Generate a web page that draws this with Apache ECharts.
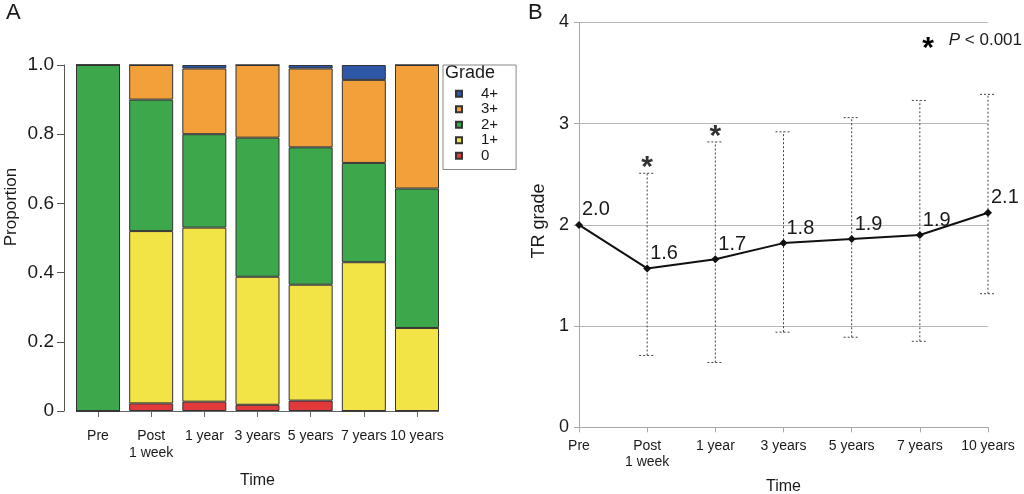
<!DOCTYPE html>
<html><head><meta charset="utf-8">
<script src="https://cdn.jsdelivr.net/npm/echarts@6/dist/echarts.min.js"></script>
<style>html,body{margin:0;padding:0;background:#fff}#c{width:1024px;height:494px}</style>
</head><body><div id="c"></div>
<script>
// ---- data ----
const categories = ['Pre', 'Post\n1 week', '1 year', '3 years', '5 years', '7 years', '10 years'];
const gradeNames = ['0', '1+', '2+', '3+', '4+'];
const grade0 = [0, 0.022, 0.027, 0.018, 0.030, 0, 0];
const grade1 = [0, 0.498, 0.503, 0.370, 0.335, 0.430, 0.240];
const grade2 = [1.0, 0.380, 0.270, 0.402, 0.397, 0.287, 0.403];
const grade3 = [0, 0.100, 0.190, 0.210, 0.228, 0.240, 0.357];
const grade4 = [0, 0, 0.010, 0, 0.010, 0.043, 0];
const proportionTicks = ['0', '0.2', '0.4', '0.6', '0.8', '1.0'];
const trTicks = ['0', '1', '2', '3', '4'];
const trMean = [2.0, 1.57, 1.66, 1.82, 1.86, 1.90, 2.12];
const trLabels = ['2.0', '1.6', '1.7', '1.8', '1.9', '1.9', '2.1'];
const trUpper = [null, 2.51, 2.82, 2.92, 3.06, 3.23, 3.29];
const trLower = [null, 0.71, 0.64, 0.94, 0.89, 0.85, 1.32];
const significant = [false, true, true, false, false, false, false];

const FONT = 'Liberation Sans, Arial, Helvetica, sans-serif';
const TXT = '#1a1a1a';
const gradeColors = ['#E2393A', '#F2E347', '#3DA84B', '#F2A03A', '#2F57A8'];
const gradeData = [grade0, grade1, grade2, grade3, grade4];

const chart = echarts.init(document.getElementById('c'));

const barSeries = gradeNames.map((g, k) => ({
  name: g, type: 'bar', stack: 'p', xAxisIndex: 0, yAxisIndex: 0,
  data: gradeData[k], barWidth: 44, clip: false,
  itemStyle: { color: gradeColors[k], borderColor: '#333', borderWidth: 1 },
  emphasis: { disabled: true }
}));

const errData = categories.map((c, i) => [i, trLower[i], trUpper[i]]).filter(d => d[1] != null);
const starData = categories.map((c, i) => [i, trUpper[i]]).filter((d, i) => significant[i]);

const option = {
  animation: false,
  textStyle: { fontFamily: FONT, color: TXT },
  grid: [
    { left: 98, right: 607, top: 65, bottom: 83, outerBoundsMode: 'none', containLabel: false },
    { left: 579, right: 36, top: 22.5, bottom: 66.7, outerBoundsMode: 'none', containLabel: false }
  ],
  legend: {
    data: ['4+', '3+', '2+', '1+', '0'], orient: 'vertical', left: 443, top: 65,
    itemWidth: 6, itemHeight: 6, itemGap: 0, padding: [21, 18, 6, 12],
    borderColor: '#888', borderWidth: 1, icon: 'rect', selectedMode: false,
    textStyle: { fontSize: 15, lineHeight: 15.5, padding: [0, 0, 0, 14], color: TXT, fontFamily: FONT }
  },
  xAxis: [
    {
      type: 'category', gridIndex: 0, data: categories, boundaryGap: false, offset: 3,
      axisLine: { show: true, lineStyle: { color: '#666', width: 1 } },
      axisTick: { show: true, length: 6, lineStyle: { color: '#666' } },
      axisLabel: { fontSize: 14, lineHeight: 16.5, color: TXT, margin: 14, fontFamily: FONT, interval: 0 },
      name: 'Time', nameLocation: 'middle', nameGap: 59,
      nameTextStyle: { fontSize: 16, color: TXT, fontFamily: FONT }
    },
    {
      type: 'category', gridIndex: 1, data: categories, boundaryGap: false,
      axisLine: { show: true, lineStyle: { color: '#a8a8a8', width: 1 } },
      axisTick: { show: true, length: 5, lineStyle: { color: '#a8a8a8' } },
      axisLabel: { fontSize: 14, lineHeight: 16, color: TXT, margin: 11, fontFamily: FONT, interval: 0 },
      name: 'Time', nameLocation: 'middle', nameGap: 51,
      nameTextStyle: { fontSize: 16, color: TXT, fontFamily: FONT }
    }
  ],
  yAxis: [
    {
      type: 'value', gridIndex: 0, min: 0, max: 1, interval: 0.2, offset: 34,
      axisLine: { show: true, lineStyle: { color: '#555' } },
      axisTick: { show: true, length: 7, lineStyle: { color: '#555' } },
      axisLabel: { fontSize: 19, color: TXT, margin: 10, fontFamily: FONT,
        formatter: v => proportionTicks[Math.round(v * 5)] },
      splitLine: { show: false }
    },
    {
      type: 'value', gridIndex: 1, min: 0, max: 4, interval: 1,
      axisLine: { show: true, lineStyle: { color: '#a8a8a8' } },
      axisTick: { show: true, length: 5, lineStyle: { color: '#a8a8a8' } },
      axisLabel: { fontSize: 18, color: TXT, margin: 10, fontFamily: FONT,
        formatter: v => trTicks[Math.round(v)] },
      splitLine: { show: true, lineStyle: { color: '#b8b8b8', width: 1.2 } }
    }
  ],
  graphic: [
    { type: 'text', left: 6, top: 2, style: { text: 'A', fontSize: 22, fontFamily: FONT, fill: TXT } },
    { type: 'text', left: 528, top: 2, style: { text: 'B', fontSize: 22, fontFamily: FONT, fill: TXT } },
    { type: 'text', x: 11, y: 207, rotation: Math.PI / 2,
      style: { text: 'Proportion', fontSize: 17, fontFamily: FONT, fill: TXT, align: 'center', verticalAlign: 'middle' } },
    { type: 'text', x: 539, y: 221, rotation: Math.PI / 2,
      style: { text: 'TR grade', fontSize: 18, fontFamily: FONT, fill: TXT, align: 'center', verticalAlign: 'middle' } },
    { type: 'text', left: 445, top: 64, style: { text: 'Grade', fontSize: 18, fontFamily: FONT, fill: TXT } },
    { type: 'text', x: 928, y: 49, style: { text: '*', fontSize: 30, fontWeight: 'bold', fontFamily: FONT, fill: '#000', align: 'center', verticalAlign: 'middle' } },
    { type: 'text', x: 1022, y: 40, style: {
        text: '{i|P} < 0.001', fontSize: 17, fontFamily: FONT, fill: TXT, align: 'right', verticalAlign: 'middle',
        rich: { i: { fontStyle: 'italic', fontSize: 17, fontFamily: FONT, fill: TXT } } } }
  ],
  series: [
    ...barSeries,
    {
      type: 'custom', xAxisIndex: 1, yAxisIndex: 1, data: errData, z: 1, silent: true,
      renderItem: function (params, api) {
        const x = api.value(0);
        const lo = api.coord([x, api.value(1)]);
        const hi = api.coord([x, api.value(2)]);
        const hw = 8;
        const st = { stroke: '#444', lineWidth: 1, lineDash: [2, 2], fill: null };
        return { type: 'group', children: [
          { type: 'line', shape: { x1: lo[0], y1: lo[1], x2: hi[0], y2: hi[1] }, style: st },
          { type: 'line', shape: { x1: hi[0] - hw, y1: hi[1], x2: hi[0] + hw, y2: hi[1] }, style: st },
          { type: 'line', shape: { x1: lo[0] - hw, y1: lo[1], x2: lo[0] + hw, y2: lo[1] }, style: st }
        ] };
      }
    },
    {
      type: 'line', xAxisIndex: 1, yAxisIndex: 1, data: trMean, z: 3,
      symbol: 'diamond', symbolSize: 8,
      lineStyle: { color: '#111', width: 2 }, itemStyle: { color: '#111' },
      label: { show: true, position: 'top', align: 'left', distance: 1, offset: [3, 0],
        fontSize: 20, color: TXT, fontFamily: FONT, formatter: p => trLabels[p.dataIndex] },
      emphasis: { disabled: true }
    },
    {
      type: 'scatter', xAxisIndex: 1, yAxisIndex: 1, data: starData, symbolSize: 1,
      itemStyle: { color: 'rgba(0,0,0,0)' }, silent: true,
      label: { show: true, position: 'top', distance: 0, offset: [0, 10], formatter: '*',
        fontSize: 30, fontWeight: 'bold', color: '#000', fontFamily: FONT }
    }
  ]
};
chart.setOption(option);
</script></body></html>
